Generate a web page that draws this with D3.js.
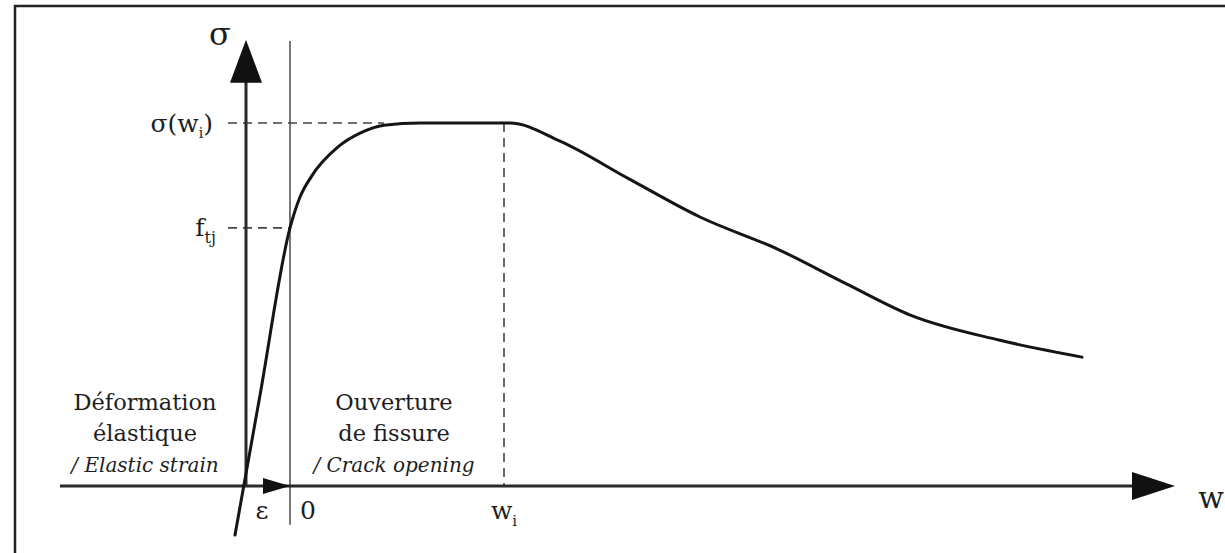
<!DOCTYPE html>
<html>
<head>
<meta charset="utf-8">
<script src="https://cdn.jsdelivr.net/npm/d3@7"></script>
<style>
	body { margin: 0; background: #fff; }
	svg { display: block; }
	text { font-family: 'DejaVu Serif', 'Liberation Serif', serif; fill: #1e1e1e; }
</style>
</head>
<body>
<div id="chart"></div>
<script>
// curve: opening w (arbitrary units, 0 = start of crack opening) vs stress sigma / sigma(wi)
const curveW = [-0.55, -0.3, 0, 0.10, 0.21, 0.48, 0.70, 0.94, 1.30, 1.80, 2.20, 2.70, 3.39, 4.10, 4.88, 5.57, 6.21, 7.09, 7.92];
const curveSigma = [-0.135, 0.25, 0.711, 0.796, 0.851, 0.934, 0.972, 0.994, 1.0, 1.0, 1.0, 0.950, 0.846, 0.741, 0.652, 0.556, 0.470, 0.402, 0.355];

const sigmaWi = 1.0;
const ftj = 0.711;
const wi = 2.14;

const yAxisW = -0.44;
const xAxisRange = [-2.3, 8.85];
const yAxisRange = [0, 1.229];
const zeroLineRange = [-0.107, 1.226];

const xTickLabels = [
	{ w: -0.28, label: 'ε' },
	{ w: 0.18, label: '0' },
	{ w: wi, label: 'w', sub: 'i' }
];

const regionLabels = [
	{ w: -1.45, lines: ['Déformation', 'élastique'], en: '/ Elastic strain' },
	{ w: 1.04, lines: ['Ouverture', 'de fissure'], en: '/ Crack opening' }
];

const width = 1225;
const height = 553;

const x = d3.scaleLinear().domain([0, 1]).range([290, 390]);
const y = d3.scaleLinear().domain([0, 1]).range([486, 123]);

const svg = d3.select('#chart')
	.append('svg')
	.attr('width', width)
	.attr('height', height);

// frame (only top and left are visible in the picture)
svg.append('path')
	.attr('d', `M15,${height} V6 H${width}`)
	.attr('fill', 'none')
	.attr('stroke', '#222')
	.attr('stroke-width', 2.5);

// thin vertical line at w = 0
svg.append('line')
	.attr('x1', x(0)).attr('x2', x(0))
	.attr('y1', y(zeroLineRange[0])).attr('y2', y(zeroLineRange[1]))
	.attr('stroke', '#555')
	.attr('stroke-width', 1.6);

// dashed reference lines
const dash = svg.append('g')
	.attr('fill', 'none')
	.attr('stroke', '#444')
	.attr('stroke-width', 1.6)
	.attr('stroke-dasharray', '9,6');

dash.append('line')
	.attr('x1', x(yAxisW) - 18).attr('x2', x(0.94))
	.attr('y1', y(sigmaWi)).attr('y2', y(sigmaWi));

dash.append('line')
	.attr('x1', x(yAxisW) - 18).attr('x2', x(0))
	.attr('y1', y(ftj)).attr('y2', y(ftj));

dash.append('line')
	.attr('x1', x(wi)).attr('x2', x(wi))
	.attr('y1', y(sigmaWi)).attr('y2', y(0));

// axes
const axes = svg.append('g')
	.attr('stroke', '#2a2a2a')
	.attr('stroke-width', 3);

axes.append('line')
	.attr('x1', x(xAxisRange[0])).attr('x2', x(xAxisRange[1]) - 30)
	.attr('y1', y(0)).attr('y2', y(0));

axes.append('line')
	.attr('x1', x(yAxisW)).attr('x2', x(yAxisW))
	.attr('y1', y(yAxisRange[0])).attr('y2', y(yAxisRange[1]) + 30);

// arrow heads
const tipW = x(xAxisRange[1]);
const tipS = y(yAxisRange[1]);
const heads = [
	[[tipW, y(0)], [tipW - 43, y(0) - 14], [tipW - 43, y(0) + 14]],
	[[x(yAxisW), tipS], [x(yAxisW) - 16, tipS + 43], [x(yAxisW) + 16, tipS + 43]],
	[[x(0), y(0)], [x(0) - 27, y(0) - 8], [x(0) - 27, y(0) + 8]]
];

svg.append('g')
	.selectAll('path')
	.data(heads)
	.join('path')
	.attr('d', (d) => 'M' + d.join('L') + 'Z')
	.attr('fill', '#111');

// the stress / opening curve
const line = d3.line()
	.x((d, i) => x(curveW[i]))
	.y((d, i) => y(curveSigma[i]))
	.curve(d3.curveMonotoneX);

svg.append('path')
	.attr('d', line(curveW))
	.attr('fill', 'none')
	.attr('stroke', '#151515')
	.attr('stroke-width', 3)
	.attr('stroke-linejoin', 'round')
	.attr('stroke-linecap', 'round');

// axis names
svg.append('text')
	.attr('x', x(yAxisW) - 26)
	.attr('y', 45)
	.attr('text-anchor', 'middle')
	.attr('font-size', 32)
	.text('σ');

svg.append('text')
	.attr('x', tipW + 36)
	.attr('y', y(0) + 22)
	.attr('text-anchor', 'middle')
	.attr('font-size', 30)
	.text('w');

// y level labels
const sigLabel = svg.append('text')
	.attr('x', x(yAxisW) - 33)
	.attr('y', y(sigmaWi) + 9)
	.attr('text-anchor', 'end')
	.attr('font-size', 25);
sigLabel.append('tspan').text('σ(w');
sigLabel.append('tspan').attr('font-size', 14).attr('dy', 6).text('i');
sigLabel.append('tspan').attr('dy', -6).text(')');

const ftLabel = svg.append('text')
	.attr('x', x(yAxisW) - 30)
	.attr('y', y(ftj) + 8)
	.attr('text-anchor', 'end')
	.attr('font-size', 25);
ftLabel.append('tspan').text('f');
ftLabel.append('tspan').attr('font-size', 16).attr('dy', 7).text('tj');

// x tick labels
const ticks = svg.append('g')
	.selectAll('text')
	.data(xTickLabels)
	.join('text')
	.attr('x', (d) => x(d.w))
	.attr('y', y(0) + 33)
	.attr('text-anchor', 'middle')
	.attr('font-size', 25);

ticks.append('tspan').text((d) => d.label);
ticks.filter((d) => d.sub)
	.append('tspan')
	.attr('font-size', 15)
	.attr('dy', 7)
	.text((d) => d.sub);

// region annotations
const regions = svg.append('g')
	.selectAll('g')
	.data(regionLabels)
	.join('g')
	.attr('transform', (d) => `translate(${x(d.w)},0)`);

regions.selectAll('text.fr')
	.data((d) => d.lines)
	.join('text')
	.attr('class', 'fr')
	.attr('y', (d, i) => 410 + i * 31)
	.attr('text-anchor', 'middle')
	.attr('font-size', 22.5)
	.text((d) => d);

regions.append('text')
	.attr('y', 472)
	.attr('text-anchor', 'middle')
	.attr('font-size', 20)
	.attr('font-style', 'italic')
	.text((d) => d.en);
</script>
</body>
</html>
